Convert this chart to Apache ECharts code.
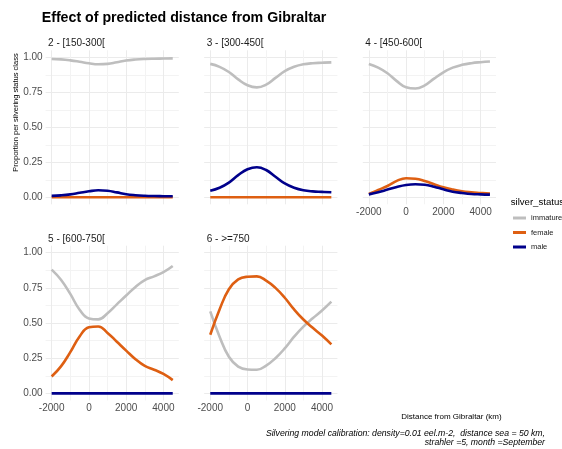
<!DOCTYPE html>
<html>
<head>
<meta charset="utf-8">
<script src="https://cdn.jsdelivr.net/npm/echarts@6/dist/echarts.min.js"></script>
<style>
  html, body { margin: 0; padding: 0; background: #ffffff; }
  #chart { width: 562px; height: 449px; }
</style>
</head>
<body>
<div id="chart"></div>
<script>
// Distance from Gibraltar (km) at which the model was evaluated
const distance = [-2000, -1500, -1000, -500, 0, 500, 1000, 1500, 2000, 2500, 3000, 3500, 4000, 4500];

// Panel labels (size class)
const panelTitles = ['2 - [150-300[', '3 - [300-450[', '4 - [450-600[', '5 - [600-750[', '6 - >=750'];

// Predicted proportion per silvering status, one array per size class
const immature2 = [0.988, 0.985, 0.978, 0.968, 0.957, 0.950, 0.953, 0.965, 0.977, 0.984, 0.988, 0.990, 0.991, 0.992];
const female2   = [0.000, 0.000, 0.000, 0.000, 0.000, 0.000, 0.000, 0.000, 0.000, 0.000, 0.000, 0.000, 0.000, 0.000];
const male2     = [0.010, 0.014, 0.021, 0.032, 0.043, 0.050, 0.047, 0.035, 0.022, 0.015, 0.011, 0.009, 0.008, 0.007];

const immature3 = [0.953, 0.932, 0.895, 0.842, 0.800, 0.785, 0.805, 0.853, 0.901, 0.932, 0.950, 0.958, 0.961, 0.964];
const female3   = [0.000, 0.000, 0.000, 0.000, 0.000, 0.000, 0.000, 0.000, 0.000, 0.000, 0.000, 0.000, 0.000, 0.000];
const male3     = [0.047, 0.068, 0.105, 0.158, 0.200, 0.215, 0.195, 0.147, 0.099, 0.068, 0.050, 0.042, 0.039, 0.036];

const immature4 = [0.952, 0.926, 0.886, 0.830, 0.786, 0.777, 0.800, 0.848, 0.893, 0.926, 0.946, 0.958, 0.965, 0.970];
const female4   = [0.024, 0.052, 0.081, 0.117, 0.136, 0.133, 0.117, 0.093, 0.071, 0.055, 0.043, 0.036, 0.031, 0.026];
const male4     = [0.021, 0.036, 0.055, 0.074, 0.088, 0.093, 0.090, 0.076, 0.057, 0.040, 0.031, 0.024, 0.021, 0.019];

const immature5 = [0.880, 0.808, 0.707, 0.595, 0.533, 0.526, 0.570, 0.633, 0.696, 0.757, 0.805, 0.832, 0.862, 0.906];
const female5   = [0.120, 0.192, 0.293, 0.405, 0.470, 0.476, 0.430, 0.367, 0.304, 0.243, 0.195, 0.168, 0.138, 0.094];
const male5     = [0.000, 0.000, 0.000, 0.000, 0.000, 0.000, 0.000, 0.000, 0.000, 0.000, 0.000, 0.000, 0.000, 0.000];

const immature6 = [0.583, 0.403, 0.260, 0.190, 0.170, 0.168, 0.198, 0.250, 0.320, 0.403, 0.475, 0.534, 0.589, 0.652];
const female6   = [0.417, 0.597, 0.740, 0.810, 0.829, 0.832, 0.802, 0.750, 0.680, 0.597, 0.525, 0.466, 0.411, 0.348];
const male6     = [0.000, 0.000, 0.000, 0.000, 0.000, 0.000, 0.000, 0.000, 0.000, 0.000, 0.000, 0.000, 0.000, 0.000];

// Axis breaks
const xBreaks = [-2000, 0, 2000, 4000];
const xMinorBreaks = [-1000, 1000, 3000];
const yBreaks = [0, 0.25, 0.5, 0.75, 1];
const yMinorBreaks = [0.125, 0.375, 0.625, 0.875];

const statusNames = ['immature', 'female', 'male'];
const statusColors = { immature: '#BEBEBE', female: '#DE5F12', male: '#00008B' };

const panelValues = [
  [immature2, female2, male2],
  [immature3, female3, male3],
  [immature4, female4, male4],
  [immature5, female5, male5],
  [immature6, female6, male6]
];

// Facet layout: 3 columns on the first row, 2 on the second
const FONT = '"Liberation Sans", Arial, Helvetica, sans-serif';
const colLeft = [45.6, 204.2, 362.8];
const panelWidth = 133.2;
const rowTop = [50.3, 245.7];
const rowHeight = [154.0, 154.7];
const stripY = [43.5, 239];

const panels = panelTitles.map((title, i) => {
  const row = i < 3 ? 0 : 1;
  const col = i < 3 ? i : i - 3;
  return {
    title, row, col,
    showX: row === 1 || (row === 0 && col === 2),
    showY: col === 0
  };
});

const grids = [], xAxes = [], yAxes = [], series = [], texts = [];

panels.forEach((p, i) => {
  grids.push({
    left: colLeft[p.col], top: rowTop[p.row],
    width: panelWidth, height: rowHeight[p.row],
    containLabel: false
  });

  const xBase = {
    type: 'value', gridIndex: i, min: -2325, max: 4825,
    axisLine: { show: false }, axisPointer: { show: false }
  };
  xAxes.push(Object.assign({}, xBase, {
    position: 'bottom',
    axisTick: { show: false, customValues: xBreaks },
    axisLabel: {
      show: p.showX, customValues: xBreaks, fontSize: 10, color: '#4d4d4d',
      fontFamily: FONT, margin: 3, formatter: v => String(v)
    },
    splitLine: { show: true, lineStyle: { color: '#ebebeb', width: 1 } }
  }));
  xAxes.push(Object.assign({}, xBase, {
    position: 'bottom',
    axisTick: { show: false, customValues: xMinorBreaks },
    axisLabel: { show: false, customValues: xMinorBreaks },
    splitLine: { show: true, lineStyle: { color: '#f3f3f3', width: 1 } }
  }));

  const yBase = {
    type: 'value', gridIndex: i, min: -0.05, max: 1.05,
    axisLine: { show: false }, axisPointer: { show: false }
  };
  yAxes.push(Object.assign({}, yBase, {
    position: 'left',
    axisTick: { show: false, customValues: yBreaks },
    axisLabel: {
      show: p.showY, customValues: yBreaks, fontSize: 10, color: '#4d4d4d',
      fontFamily: FONT, margin: 3, formatter: v => v.toFixed(2)
    },
    splitLine: { show: true, lineStyle: { color: '#ebebeb', width: 1 } }
  }));
  yAxes.push(Object.assign({}, yBase, {
    position: 'left',
    axisTick: { show: false, customValues: yMinorBreaks },
    axisLabel: { show: false, customValues: yMinorBreaks },
    splitLine: { show: true, lineStyle: { color: '#f3f3f3', width: 1 } }
  }));

  statusNames.forEach((name, k) => {
    const vals = panelValues[i][k];
    series.push({
      type: 'line', name,
      xAxisIndex: 2 * i, yAxisIndex: 2 * i,
      data: distance.map((d, j) => [d, vals[j]]),
      smooth: 0.45, symbol: 'none', silent: true,
      lineStyle: { width: 2.6, color: statusColors[name] },
      itemStyle: { color: statusColors[name] },
      z: 3 + k
    });
  });

  texts.push({
    type: 'text', x: colLeft[p.col] + 2.5, y: stripY[p.row], silent: true,
    style: {
      text: p.title, font: '10px ' + FONT, fill: '#1a1a1a',
      align: 'left', verticalAlign: 'middle', textAlign: 'left', textVerticalAlign: 'middle'
    }
  });
});

function label(text, x, y, font, align, extra) {
  return Object.assign({
    type: 'text', x, y, silent: true,
    style: {
      text, font, fill: '#000000',
      align, verticalAlign: 'middle', textAlign: align, textVerticalAlign: 'middle'
    }
  }, extra || {});
}

texts.push(label('Effect of predicted distance from Gibraltar', 41.7, 18.5, 'bold 14.2px ' + FONT, 'left'));
texts.push(label('Proportion per silvering status class', 16, 112.5, '7.5px ' + FONT, 'center', { rotation: Math.PI / 2 }));
texts.push(label('silver_status', 510.7, 202, '9.6px ' + FONT, 'left'));
texts.push(label('Distance from Gibraltar (km)', 501.7, 416.7, '8px ' + FONT, 'right'));
texts.push(label('Silvering model calibration: density=0.01 eel.m-2,  distance sea = 50 km,', 545, 433.6, 'italic 8.7px ' + FONT, 'right'));
texts.push(label('strahler =5, month =September', 545, 443, 'italic 8.7px ' + FONT, 'right'));

const chart = echarts.init(document.getElementById('chart'), null, { renderer: 'canvas' });
chart.setOption({
  animation: false,
  backgroundColor: '#ffffff',
  grid: grids,
  xAxis: xAxes,
  yAxis: yAxes,
  series,
  legend: {
    data: statusNames,
    orient: 'vertical',
    left: 513, top: 213,
    padding: 0,
    icon: 'rect',
    itemWidth: 13, itemHeight: 3, itemGap: 4.5,
    selectedMode: false,
    textStyle: { fontSize: 7.5, lineHeight: 10, color: '#1a1a1a', fontFamily: FONT }
  },
  graphic: texts
});
</script>
</body>
</html>
